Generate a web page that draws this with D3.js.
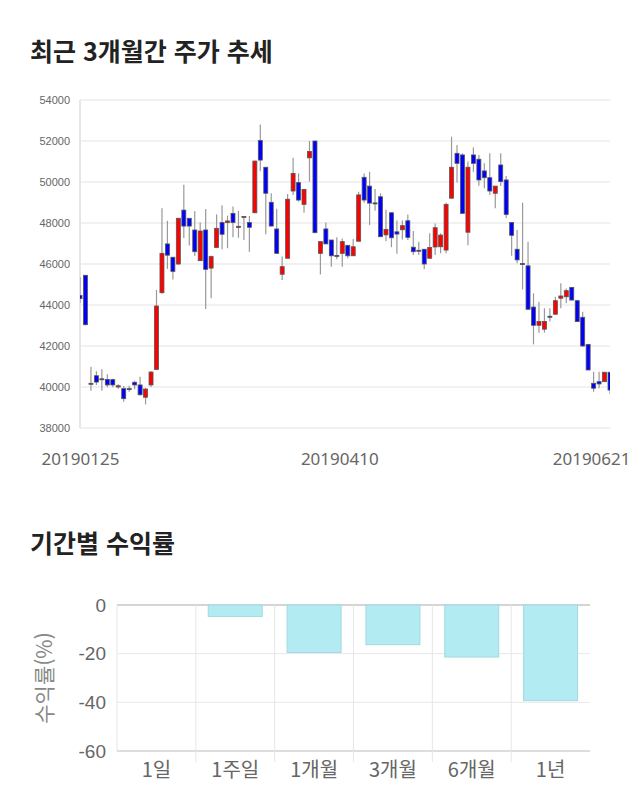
<!DOCTYPE html>
<html lang="ko">
<head>
<meta charset="UTF-8">
<title>최근 3개월간 주가 추세</title>
<script src="https://d3js.org/d3.v7.min.js"></script>
<style>
  body { margin: 0; background: #fff; }
  .title { font-family: "Noto Sans CJK KR", sans-serif; font-weight: bold; fill: #222; }
</style>
</head>
<body>
<div id="chart"></div>
<script>
// daily candles (98 trading days)
var open  = [44470,45450,40150,40550,40400,40370,40360,40000,39920,39920,40230,40100,39500,40100,40860,44600,46980,46330,46000,48630,
             48230,47660,46160,47660,45800,46810,48020,48020,48470,47780,48270,48020,48500,52020,50720,49010,47710,45500,46280,49560,
             49970,48910,51180,52000,46520,47710,47170,46420,46520,46910,46400,47110,50230,49800,48980,49280,47420,48500,47570,47670,
             48110,46820,46670,46720,46280,46830,46840,46680,49210,51400,51320,47550,51320,51110,50540,50210,49450,50830,50100,48020,
             46720,46020,45910,43900,43010,42820,43450,43550,44330,44400,44860,44210,43400,42080,40180,40260,40260,40720];
var high  = [45350,45450,40990,40770,40860,40620,40400,40130,40050,40060,40310,40500,39950,40770,44730,48720,48110,46330,48250,49870,
             48230,48590,48030,48680,46420,48420,48860,48360,48800,48590,48320,48340,51050,52800,50720,49450,48690,46360,49410,51180,
             50420,49640,52000,52000,47090,48030,47170,47300,47240,46910,47220,49530,50420,50500,49660,49450,48650,48500,48120,48120,
             48420,47610,47090,46720,47500,47970,47500,48990,52210,51800,51400,51000,51690,51320,50910,51400,49800,51400,50290,48020,
             47660,48990,47090,44570,44160,43840,43840,44400,45060,44810,44880,44260,43670,42080,40750,40750,40720,40720];
var low   = [44110,43010,39820,40100,39820,39990,39990,39920,39280,39770,39890,39580,39150,40000,40830,44550,45760,45250,45950,47270,
             46900,46390,46160,43800,44330,46810,46720,46770,47300,47280,47170,46600,48480,50520,47450,47850,46520,45220,46280,49370,
             49040,48500,50020,47500,45490,46980,45870,46230,45870,46280,46400,47110,48990,47900,48600,47330,47110,46820,46500,47200,
             47170,46440,46440,45740,46280,46440,46520,46520,49210,49970,48470,46920,50500,49820,49700,49370,48720,49800,48250,46400,
             46040,44760,43790,42080,42650,42650,43190,43550,43840,44080,44240,43190,41950,40830,39770,39940,40260,39650];
var close = [44310,43040,40180,40240,40360,40100,40100,40060,39430,39900,40100,39620,39900,40730,43950,46520,46430,45640,48230,47850,
             47850,46600,47610,45740,46360,47740,47450,48100,48020,47840,48320,47790,51020,51070,49450,47850,46520,45870,49160,50420,
             49120,49640,51490,47530,47090,46980,46400,46400,47090,46400,46840,49370,49120,48970,48960,47330,47690,47280,47460,47870,
             47300,46600,46650,46000,46810,47770,47410,48910,50720,50910,48470,50720,50910,50100,50210,49560,49800,50020,48420,47400,
             46200,46000,43790,43010,43200,43200,43430,44210,44440,44700,44240,43190,42000,40830,39940,40150,40720,39850];
var priceTicks = [38000, 40000, 42000, 44000, 46000, 48000, 50000, 52000, 54000];
var dateTickIdx = [0, 48, 97];
var dateTickLabels = ["20190125", "20190410", "20190621"];

// period returns
var periods = ["1일", "1주일", "1개월", "3개월", "6개월", "1년"];
var returns = [0, -4.7, -19.5, -16.3, -21.4, -39.3];
var returnTicks = [0, -20, -40, -60];

var svg = d3.select("#chart").append("svg")
    .attr("width", 640)
    .attr("height", 810);

// ---------- candlestick chart ----------
svg.append("text").attr("class", "title")
    .attr("x", 30).attr("y", 61)
    .style("font-size", "25px")
    .text("최근 3개월간 주가 추세");

var x = d3.scalePoint().domain(d3.range(open.length)).range([80, 610]);
var y = d3.scaleLinear().domain([38000, 54000]).range([428, 100]);

svg.append("defs").append("clipPath").attr("id", "plotclip")
  .append("rect").attr("x", 80).attr("y", 95).attr("width", 530).attr("height", 340);

var g1 = svg.append("g");

g1.selectAll(".grid").data(priceTicks).join("line")
    .attr("x1", 80).attr("x2", 610)
    .attr("y1", d => y(d)).attr("y2", d => y(d))
    .attr("stroke", "#e3e3e3").attr("stroke-width", 1);

g1.append("line")
    .attr("x1", 80).attr("x2", 80).attr("y1", y(54000)).attr("y2", y(38000))
    .attr("stroke", "#e6e6e6").attr("stroke-width", 2);

var yAxis = g1.append("g")
    .attr("transform", "translate(80,0)")
    .call(d3.axisLeft(y).tickValues(priceTicks).tickFormat(d => String(d)).tickSize(0).tickPadding(10));
yAxis.select(".domain").remove();
yAxis.selectAll("text")
    .style("font-family", "'Liberation Sans', Arial, sans-serif")
    .style("font-size", "11px").attr("fill", "#666");

var xAxis = g1.append("g")
    .attr("transform", "translate(0,428)")
    .call(d3.axisBottom(x).tickValues(dateTickIdx)
      .tickFormat((d, i) => dateTickLabels[i]).tickSize(0).tickPadding(25));
xAxis.select(".domain").remove();
xAxis.selectAll("text")
    .style("font-family", "'Noto Sans', sans-serif")
    .style("font-size", "17px").attr("fill", "#666");
xAxis.selectAll("text").filter((d, i) => i === 1).attr("dx", -3);
xAxis.selectAll("text").filter((d, i) => i === dateTickIdx.length - 1)
    .attr("text-anchor", "end").attr("dx", 20);

var candles = g1.append("g").attr("clip-path", "url(#plotclip)")
  .selectAll("g").data(d3.range(open.length)).join("g");

candles.append("line")
    .attr("x1", i => x(i)).attr("x2", i => x(i))
    .attr("y1", i => y(high[i])).attr("y2", i => y(low[i]))
    .attr("stroke", "#999").attr("stroke-width", 1.2);

candles.append("rect")
    .attr("x", i => x(i) - 2)
    .attr("width", 4)
    .attr("y", i => y(Math.max(open[i], close[i])))
    .attr("height", i => Math.max(1, Math.abs(y(open[i]) - y(close[i]))))
    .attr("fill", i => close[i] >= open[i] ? "#ff0000" : "#0000ff")
    .attr("stroke", "#555").attr("stroke-width", 0.8);

// ---------- period return bars ----------
svg.append("text").attr("class", "title")
    .attr("x", 30).attr("y", 553)
    .style("font-size", "25px")
    .text("기간별 수익률");

var bx = d3.scaleBand().domain(periods).range([117, 590])
    .paddingInner(0.315).paddingOuter(0.1575);
var by = d3.scaleLinear().domain([-60, 0]).range([751, 605]);

var g2 = svg.append("g");

g2.selectAll(".hgrid").data(returnTicks).join("line")
    .attr("x1", 117).attr("x2", 590)
    .attr("y1", d => by(d)).attr("y2", d => by(d))
    .attr("stroke", d => d === 0 ? "#aaa" : (d === -60 ? "#bbb" : "#e8e8e8"))
    .attr("stroke-width", 1);

var step = bx.step();
g2.selectAll(".vgrid").data(d3.range(periods.length)).join("line")
    .attr("x1", i => 117 + i * step).attr("x2", i => 117 + i * step)
    .attr("y1", by(0)).attr("y2", i => i === 0 ? by(-60) : by(-60) + 11)
    .attr("stroke", "#e6e6e6").attr("stroke-width", 1);

g2.selectAll(".bar").data(periods).join("rect")
    .attr("x", d => bx(d))
    .attr("width", bx.bandwidth())
    .attr("y", by(0))
    .attr("height", (d, i) => by(returns[i]) - by(0))
    .attr("fill", "#b2ebf2")
    .attr("stroke", "#a3d9e2").attr("stroke-width", 1);

var byAxis = g2.append("g")
    .attr("transform", "translate(117,0)")
    .call(d3.axisLeft(by).tickValues(returnTicks).tickFormat(d => String(d)).tickSize(0).tickPadding(11));
byAxis.select(".domain").remove();
byAxis.selectAll("text")
    .style("font-family", "'Liberation Sans', Arial, sans-serif")
    .style("font-size", "19px").attr("fill", "#666");

var bxAxis = g2.append("g")
    .attr("transform", "translate(0,751)")
    .call(d3.axisBottom(bx).tickSize(0).tickPadding(12));
bxAxis.select(".domain").remove();
bxAxis.selectAll("text")
    .style("font-family", "'Noto Sans CJK KR', sans-serif")
    .style("font-size", "20px").attr("fill", "#666");

g2.append("text")
    .attr("transform", "translate(52,678) rotate(-90)")
    .attr("text-anchor", "middle")
    .style("font-family", "'Noto Sans CJK KR', sans-serif")
    .style("font-size", "21px").attr("fill", "#888")
    .text("수익률(%)");
</script>
</body>
</html>
